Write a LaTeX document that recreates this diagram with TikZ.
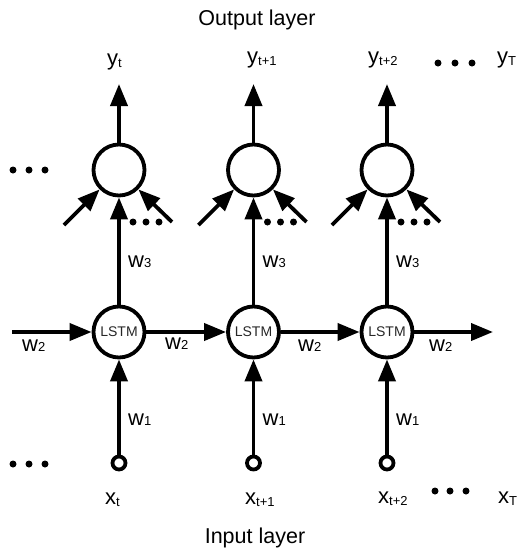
\documentclass[tikz,border=0pt]{standalone}
\usepackage{fontspec}
\setmainfont{Liberation Sans}
\usetikzlibrary{arrows.meta}
\newcommand\mylbl[2]{{\fontsize{22}{22}\selectfont #1}{\fontsize{13}{13}\selectfont\raisebox{-2pt}{#2}}}
\newcommand\mywl[1]{{\fontsize{22}{22}\selectfont w}{\fontsize{13}{13}\selectfont #1}}
\tikzset{
  thick line/.style={line width=3.8pt},
  arr/.style={thick line,-{Triangle[length=22pt,width=17pt]}},
  neuron/.style={circle,draw,line width=3.8pt,minimum size=51pt,inner sep=0pt},
  inp/.style={circle,draw,line width=3.8pt,minimum size=13pt,inner sep=0pt,fill=white},
  bigdot/.style={circle,fill=black,minimum size=7pt,inner sep=0pt},
  lbl/.style={anchor=base west,inner sep=0pt},
  wlbl/.style={anchor=base west,inner sep=0pt},
  layer/.style={anchor=base,inner sep=0pt,font=\fontsize{21.5}{21.5}\selectfont},
  lstmtext/.style={font=\fontsize{14}{14}\selectfont,text=black!85}
}
\begin{document}
\begin{tikzpicture}[x=1pt,y=-1pt]
\useasboundingbox (0,0) rectangle (524,550);
% layer titles
\node[layer] (outl) at (257,25) {Output layer};
\node[layer] (inl) at (255,543) {Input layer};
% columns
\foreach \i/\c in {1/119,2/253.5,3/387}{
  \node[neuron] (o\i) at (\c,170) {};
  \node[neuron,lstmtext] (l\i) at (\c,332) {LSTM};
  \node[inp] (i\i) at (\c,463) {};
  \coordinate (top\i) at (\c,84);
  \coordinate (dl\i) at (\c-55,225);
  \coordinate (dr\i) at (\c+53,222);
  \draw[arr] (i\i) -- (l\i);
  \draw[arr] (l\i) -- (o\i);
  \draw[arr] (o\i) -- (top\i);
  \draw[arr] (dl\i) -- (o\i.-135);
  \draw[arr] (dr\i) -- (o\i.-45);
  \node[bigdot] (da\i) at (\c+14,222) {};
  \node[bigdot] (db\i) at (\c+27,222) {};
  \node[bigdot] (dc\i) at (\c+40,222) {};
  \node[wlbl] (w1\i) at (\c+9,425) {\mywl{1}};
  \node[wlbl] (w3\i) at (\c+9,267) {\mywl{3}};
}
% horizontal recurrent arrows
\coordinate (hs) at (12,332);
\coordinate (he) at (493,332);
\draw[arr] (hs) -- (l1);
\draw[arr] (l1) -- (l2);
\draw[arr] (l2) -- (l3);
\draw[arr] (l3) -- (he);
\node[wlbl] (w2a) at (22,351) {\mywl{2}};
\node[wlbl] (w2b) at (165,349) {\mywl{2}};
\node[wlbl] (w2c) at (298,351) {\mywl{2}};
\node[wlbl] (w2d) at (429,351) {\mywl{2}};
% output labels
\node[lbl] (y1) at (107,65) {\mylbl{y}{t}};
\node[lbl] (y2) at (247,63) {\mylbl{y}{t+1}};
\node[lbl] (y3) at (368,63) {\mylbl{y}{t+2}};
\node[lbl] (yT) at (497,63) {\mylbl{y}{T}};
% input labels
\node[lbl] (x1) at (105,504) {\mylbl{x}{t}};
\node[lbl] (x2) at (245,504) {\mylbl{x}{t+1}};
\node[lbl] (x3) at (378,503) {\mylbl{x}{t+2}};
\node[lbl] (xT) at (498,503) {\mylbl{x}{T}};
% ellipsis dots
\foreach \k/\x in {1/13,2/29,3/45}{
  \node[bigdot] (tl\k) at (\x,170) {};
  \node[bigdot] (bl\k) at (\x,464) {};
}
\foreach \k/\x in {1/438,2/455,3/472}{
  \node[bigdot] (tr\k) at (\x,63) {};
}
\foreach \k/\x in {1/435,2/450,3/466}{
  \node[bigdot] (br\k) at (\x,491) {};
}
\end{tikzpicture}
\end{document}
